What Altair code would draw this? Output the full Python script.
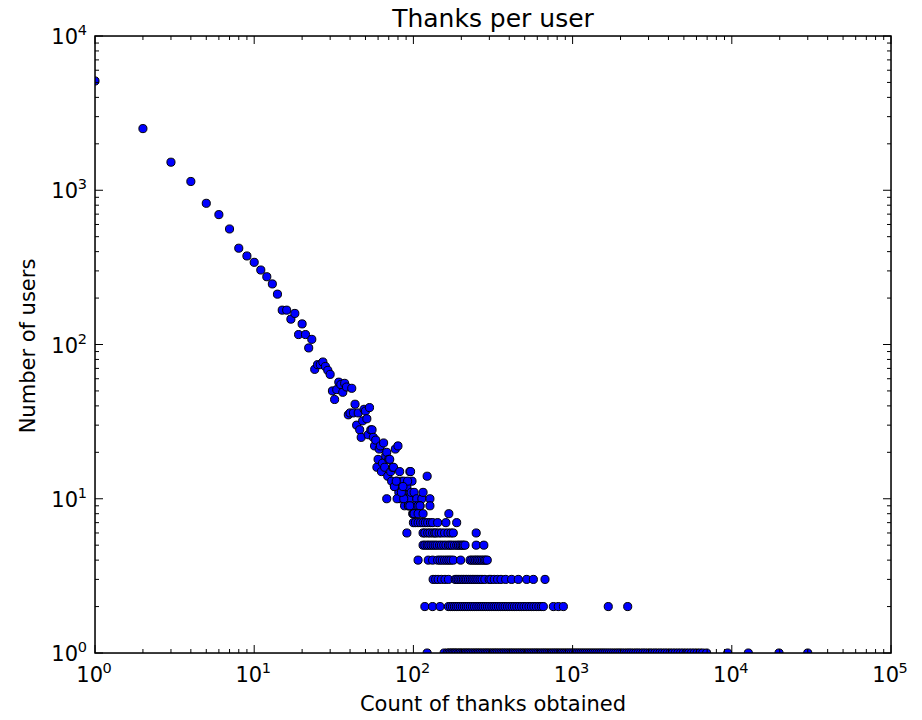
import altair as alt
import pandas as pd

# ---- data (log-log scatter) ----
diag_thanks = [1, 2, 3, 4, 5, 6, 7, 8, 9, 10, 11, 12, 13, 14, 15, 16, 17, 18, 19, 20,
               21, 22, 23, 24, 25, 26, 27, 28, 29, 30, 31, 32, 33, 34, 35, 36, 37, 38, 39, 40,
               41, 42, 43, 44, 45, 46, 47, 48, 49, 50, 51, 52, 53, 54, 55, 56, 57, 58, 59, 60,
               61, 62, 63, 64, 65, 66, 67, 68, 69, 70, 71, 72, 73, 74, 75, 76, 77, 78, 79, 80,
               81, 82, 83, 84, 85, 86, 87, 88, 89, 90, 91, 93, 94, 95, 96, 97, 98, 99, 101, 105,
               113, 115, 122, 127]
diag_users = [5110, 2510, 1520, 1140, 823, 695, 561, 421, 375, 341,
              304, 275, 247, 212, 167, 167, 146, 159, 116, 136,
              116, 95, 108, 69, 74, 74, 77, 72, 68, 64,
              50, 44, 51, 57, 55, 49, 56, 53, 35, 36,
              52, 36, 41, 30, 36, 28, 25, 32, 38, 37,
              33, 26, 39, 28, 28, 25, 22, 24, 16, 18,
              21, 22, 15, 17, 23, 16, 19, 20, 14, 18,
              18, 15, 13, 16, 16, 12, 21, 12, 13, 22,
              11, 15, 10, 13, 12, 11, 13, 9, 10, 12,
              12, 9, 10, 15, 15, 11, 13, 8, 11, 10,
              10, 11, 14, 10]

extra_thanks = [68, 79, 87, 76, 84, 92, 78, 86, 102, 110]
extra_users = [10, 10, 10, 12, 11, 13, 13, 12, 9, 9]

level_9 = [93, 95, 107, 110, 127]
level_8 = [100, 101, 107, 115, 167]
level_7 = [100, 103, 107, 111, 115, 119, 123, 128, 132, 142, 160, 187]
level_6 = [91, 115, 118, 123, 127, 132, 136, 139, 145, 150, 157, 165, 172, 178, 248]
level_5 = [115, 118, 122, 125, 129, 133, 137, 141, 146, 150, 155, 160, 166, 170, 175,
           181, 187, 192, 197, 202, 206, 211, 248, 277]
level_4 = [107, 124, 132, 142, 147, 152, 157, 162, 167, 172, 178, 198, 227, 233, 240,
           246, 252, 258, 265, 272, 279, 285, 291]
level_3 = [133, 138, 143, 150, 158, 166, 183, 187, 191, 196, 201, 206, 211, 216, 222,
           228, 234, 240, 247, 254, 262, 270, 281, 299, 307, 322, 338, 355, 380, 414,
           456, 515, 567, 671]
level_2 = [118, 132, 147, 166, 171, 176, 181, 186, 191, 197, 203, 209, 215, 221, 228,
           235, 242, 250, 258, 266, 274, 283, 292, 301, 311, 321, 331, 342, 353, 365,
           377, 390, 403, 417, 431, 446, 462, 478, 495, 513, 532, 551, 571, 592, 614,
           636, 655, 757, 813, 875, 1675, 2219]
level_1 = [122, 156, 163, 167, 171, 175, 179, 183, 187, 192, 196, 201, 206, 211, 216,
           221, 226, 232, 238, 244, 250, 256, 262, 269, 276, 283, 290, 297, 305, 313,
           321, 329, 337, 346, 355, 364, 373, 383, 393, 403, 413, 424, 435, 446, 458,
           470, 482, 494, 507, 520, 534, 548, 562, 577, 592, 607, 623, 640, 657, 674,
           692, 711, 730, 750, 770, 791, 812, 834, 857, 880, 905, 930, 956, 983, 1011,
           1040, 1069, 1099, 1130, 1162, 1195, 1230, 1266, 1303, 1341, 1380, 1421, 1464,
           1508, 1553, 1600, 1649, 1700, 1753, 1808, 1866, 1925, 1987, 2051, 2118, 2188,
           2260, 2335, 2414, 2496, 2581, 2670, 2763, 2860, 2960, 3065, 3175, 3290, 3410,
           3535, 3665, 3800, 3945, 4095, 4250, 4415, 4590, 4770, 4960, 5160, 5370, 5590,
           5820, 6060, 6310, 6570, 6950, 9420, 12700, 19800, 29990]

# ---- tick values and labels ----
x_major = [1, 10, 100, 1000, 10000, 100000]
x_exponents = ["0", "1", "2", "3", "4", "5"]
y_major = [1, 10, 100, 1000, 10000]
y_exponents = ["0", "1", "2", "3", "4"]
minor_mult = [2, 3, 4, 5, 6, 7, 8, 9]

title_text = "Thanks per user"
x_title = "Count of thanks obtained"
y_title = "Number of users"

# ---- tables ----
rows = [{"thanks": x, "users": y} for x, y in zip(diag_thanks, diag_users)]
rows += [{"thanks": x, "users": y} for x, y in zip(extra_thanks, extra_users)]
for lvl, xs in [(9, level_9), (8, level_8), (7, level_7), (6, level_6), (5, level_5),
                (4, level_4), (3, level_3), (2, level_2), (1, level_1)]:
    rows += [{"thanks": x, "users": lvl} for x in xs]
df = pd.DataFrame(rows)

x_minor = [m * d for d in x_major[:-1] for m in minor_mult]
y_minor = [m * d for d in y_major[:-1] for m in minor_mult]

xlab = pd.DataFrame({"v": x_major, "base": ["10"] * len(x_major), "sup": x_exponents})
ylab = pd.DataFrame({"v": y_major, "base": ["10"] * len(y_major), "sup": y_exponents})

W, H = 796, 617
FONT = "DejaVu Sans"
LAB = 21
SUP = 14.5

xscale = alt.Scale(type="log", domain=[1, 100000], nice=False)
yscale = alt.Scale(type="log", domain=[1, 10000], nice=False)

points = alt.Chart(df).mark_circle(
    size=66, fill="#0000ff", stroke="black", strokeWidth=1, opacity=1, clip=True
).encode(
    x=alt.X("thanks:Q", scale=xscale, axis=None),
    y=alt.Y("users:Q", scale=yscale, axis=None),
)


def xticks(vals, length):
    d = pd.DataFrame({"v": vals})
    base = alt.Chart(d).mark_rule(color="black", strokeWidth=1)
    bottom = base.encode(x=alt.X("v:Q", scale=xscale, axis=None),
                         y=alt.value(H), y2=alt.value(H - length))
    top = base.encode(x=alt.X("v:Q", scale=xscale, axis=None),
                      y=alt.value(0), y2=alt.value(length))
    return [bottom, top]


def yticks(vals, length):
    d = pd.DataFrame({"v": vals})
    base = alt.Chart(d).mark_rule(color="black", strokeWidth=1)
    left = base.encode(y=alt.Y("v:Q", scale=yscale, axis=None),
                       x=alt.value(0), x2=alt.value(length))
    right = base.encode(y=alt.Y("v:Q", scale=yscale, axis=None),
                        x=alt.value(W), x2=alt.value(W - length))
    return [left, right]


tick_layers = (xticks(x_major, 8) + xticks(x_minor, 4) +
               yticks(y_major, 8) + yticks(y_minor, 4))

# tick labels, 10 with a raised exponent
xl_base = alt.Chart(xlab).mark_text(
    align="right", baseline="alphabetic", font=FONT, fontSize=LAB, color="black", dx=8
).encode(x=alt.X("v:Q", scale=xscale, axis=None), y=alt.value(H + 29), text="base:N")
xl_sup = alt.Chart(xlab).mark_text(
    align="left", baseline="alphabetic", font=FONT, fontSize=SUP, color="black", dx=7.5
).encode(x=alt.X("v:Q", scale=xscale, axis=None), y=alt.value(H + 20), text="sup:N")

yl_base = alt.Chart(ylab).mark_text(
    align="right", baseline="alphabetic", font=FONT, fontSize=LAB, color="black", dy=8
).encode(y=alt.Y("v:Q", scale=yscale, axis=None), x=alt.value(-17), text="base:N")
yl_sup = alt.Chart(ylab).mark_text(
    align="right", baseline="alphabetic", font=FONT, fontSize=SUP, color="black", dy=-1
).encode(y=alt.Y("v:Q", scale=yscale, axis=None), x=alt.value(-8), text="sup:N")

title_layer = alt.Chart(pd.DataFrame({"t": [title_text]})).mark_text(
    align="center", baseline="alphabetic", font=FONT, fontSize=25, color="black"
).encode(x=alt.value(W / 2), y=alt.value(-9), text="t:N")

x_title_layer = alt.Chart(pd.DataFrame({"t": [x_title]})).mark_text(
    align="center", baseline="alphabetic", font=FONT, fontSize=21, color="black"
).encode(x=alt.value(W / 2), y=alt.value(H + 58), text="t:N")

y_title_layer = alt.Chart(pd.DataFrame({"t": [y_title]})).mark_text(
    align="center", baseline="alphabetic", font=FONT, fontSize=21, color="black", angle=270
).encode(x=alt.value(-60), y=alt.value(H / 2 + 1.5), text="t:N")

frame = alt.Chart(pd.DataFrame({"a": [0]})).mark_rect(
    filled=False, stroke="black", strokeWidth=1.5
).encode(x=alt.value(0), x2=alt.value(W), y=alt.value(0), y2=alt.value(H))

chart = alt.layer(points, *tick_layers, frame, xl_base, xl_sup, yl_base, yl_sup,
                  title_layer, x_title_layer, y_title_layer).properties(
    width=W, height=H,
    autosize=alt.AutoSizeParams(type="none"),
    padding={"left": 95, "top": 36, "right": 31, "bottom": 67},
).configure_view(stroke=None).configure(background="white")

chart.save("out.html", embed_options={"renderer": "svg", "actions": False})
